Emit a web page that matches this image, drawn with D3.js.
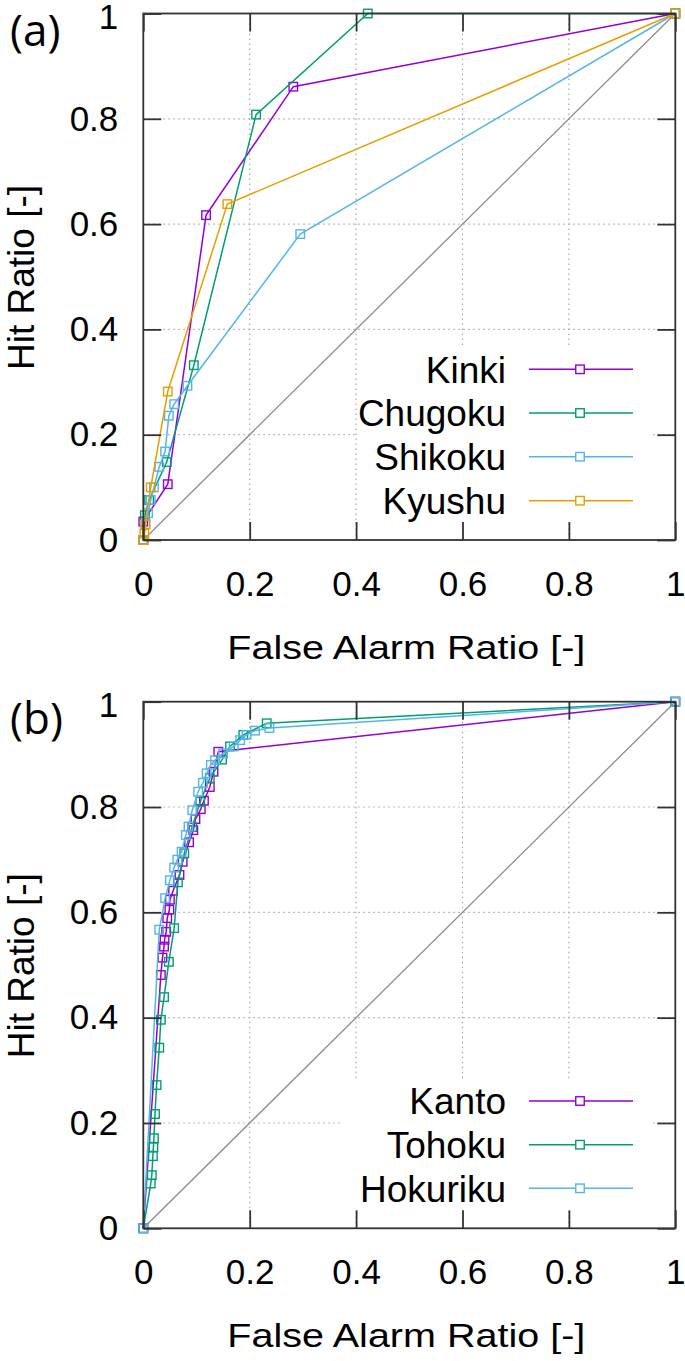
<!DOCTYPE html>
<html>
<head>
<meta charset="utf-8">
<script src="https://cdn.jsdelivr.net/npm/d3@7"></script>
<style>
  html, body { margin: 0; padding: 0; background: #fff; }
  svg { display: block; }
  text { font-family: "Liberation Sans", Arial, sans-serif; fill: #000; }
</style>
</head>
<body>
<svg id="chart" width="685" height="1361"></svg>
<script>
// ---------------- data ----------------
const tickValues = [0, 0.2, 0.4, 0.6, 0.8, 1];
const tickLabels = ["0", "0.2", "0.4", "0.6", "0.8", "1"];
const xTitle = "False Alarm Ratio [-]";
const yTitle = "Hit Ratio [-]";

// Panel (a)
const panelANames = ["Kinki", "Chugoku", "Shikoku", "Kyushu"];
const kinki = [[0,0],[0,0.035],[0.046,0.106],[0.118,0.617],[0.282,0.861],[1,1]];
const chugoku = [[0,0],[0.003,0.047],[0.011,0.076],[0.044,0.148],[0.095,0.332],[0.212,0.808],[0.422,1],[1,1]];
const shikoku = [[0,0],[0.004,0.03],[0.009,0.051],[0.014,0.076],[0.020,0.100],[0.030,0.139],[0.041,0.168],[0.048,0.236],[0.058,0.258],[0.083,0.293],[0.295,0.581],[1,1]];
const kyushu = [[0,0],[0.002,0.012],[0.004,0.03],[0.014,0.100],[0.046,0.282],[0.158,0.638],[1,1]];

// Panel (b)
const panelBNames = ["Kanto", "Tohoku", "Hokuriku"];
const kanto = [[0,0],[0.033,0.481],[0.036,0.514],[0.039,0.535],[0.040,0.548],[0.043,0.563],[0.045,0.589],[0.049,0.605],[0.050,0.624],[0.056,0.641],[0.068,0.671],[0.074,0.696],[0.086,0.733],[0.094,0.756],[0.098,0.777],[0.108,0.796],[0.114,0.812],[0.125,0.838],[0.132,0.867],[0.141,0.905],[1,1]];
const tohoku = [[0,0],[0.014,0.085],[0.016,0.101],[0.018,0.137],[0.019,0.154],[0.020,0.171],[0.022,0.217],[0.025,0.272],[0.030,0.343],[0.033,0.396],[0.039,0.439],[0.048,0.506],[0.058,0.570],[0.065,0.657],[0.077,0.712],[0.092,0.762],[0.107,0.810],[0.125,0.855],[0.148,0.890],[0.163,0.915],[0.188,0.937],[0.232,0.959],[1,1]];
const hokuriku = [[0,0],[0.030,0.567],[0.041,0.627],[0.050,0.661],[0.058,0.685],[0.064,0.700],[0.072,0.715],[0.080,0.747],[0.085,0.763],[0.092,0.794],[0.103,0.829],[0.112,0.846],[0.119,0.864],[0.127,0.880],[0.135,0.889],[0.150,0.902],[0.170,0.915],[0.182,0.927],[0.194,0.937],[0.210,0.945],[0.237,0.950],[1,1]];

const seriesColors = ["#9400d3", "#009e73", "#56b4e9", "#e69f00"];

// ---------------- layout ----------------
const svg = d3.select("#chart");
const plotLeft = 143.3, plotRight = 675.3;

function drawPanel(cfg) {
  const g = svg.append("g");
  const x = d3.scaleLinear().domain([0, 1]).range([plotLeft, plotRight]);
  const y = d3.scaleLinear().domain([0, 1]).range([cfg.bottom, cfg.top]);
  const fmt = d => tickLabels[tickValues.indexOf(d)];

  // grid
  const grid = g.append("g").attr("stroke", "#a8a8a8").attr("stroke-width", 1.2)
    .attr("stroke-dasharray", "1.5,3.5");
  tickValues.slice(1, -1).forEach(v => {
    grid.append("line").attr("x1", x(v)).attr("x2", x(v)).attr("y1", y(0)).attr("y2", y(1));
    grid.append("line").attr("x1", x(0)).attr("x2", x(1)).attr("y1", y(v)).attr("y2", y(v));
  });

  // legend background (opaque key)
  g.append("rect").attr("x", cfg.keyBox[0]).attr("y", cfg.keyBox[1])
    .attr("width", cfg.keyBox[2]).attr("height", cfg.keyBox[3]).attr("fill", "#fff");

  // diagonal
  g.append("line").attr("x1", x(0)).attr("y1", y(0)).attr("x2", x(1)).attr("y2", y(1))
    .attr("stroke", "#8c8c8c").attr("stroke-width", 1.3);

  const line = d3.line().x(d => x(d[0])).y(d => y(d[1]));
  const ms = 8.5;
  cfg.series.forEach((s, i) => {
    const col = seriesColors[i];
    g.append("path").datum(s).attr("d", line).attr("fill", "none")
      .attr("stroke", col).attr("stroke-width", 1.5);
    g.append("g").selectAll("rect").data(s).join("rect")
      .attr("x", d => x(d[0]) - ms / 2).attr("y", d => y(d[1]) - ms / 2)
      .attr("width", ms).attr("height", ms)
      .attr("fill", "none").attr("stroke", col).attr("stroke-width", 1.4);
  });

  // axes (ticks inward)
  const axStyle = sel => {
    sel.select(".domain").remove();
    sel.selectAll(".tick line").attr("stroke", "#333").attr("stroke-width", 1.8);
    sel.selectAll("text").style("font-size", "35px").style("font-family", "'Liberation Sans', Arial, sans-serif").attr("fill", "#000");
  };
  g.append("g").attr("transform", `translate(0,${cfg.bottom})`)
    .call(d3.axisBottom(x).tickValues(tickValues).tickFormat(fmt).tickSize(-18).tickPadding(31))
    .call(axStyle);
  const yAxisG = g.append("g").attr("transform", `translate(${plotLeft},0)`)
    .call(d3.axisLeft(y).tickValues(tickValues).tickFormat(fmt).tickSize(-18).tickPadding(25))
    .call(axStyle);
  // the top label sits slightly lower in the reference
  yAxisG.selectAll(".tick").filter(d => d === 1).select("text").attr("y", 4);
  g.append("g").attr("transform", `translate(0,${cfg.top})`)
    .call(d3.axisTop(x).tickValues(tickValues).tickFormat("").tickSize(-18))
    .call(axStyle);
  g.append("g").attr("transform", `translate(${plotRight},0)`)
    .call(d3.axisRight(y).tickValues(tickValues).tickFormat("").tickSize(-18))
    .call(axStyle);

  // frame
  g.append("rect").attr("x", plotLeft).attr("y", cfg.top)
    .attr("width", plotRight - plotLeft).attr("height", cfg.bottom - cfg.top)
    .attr("fill", "none").attr("stroke", "#333").attr("stroke-width", 1.8);

  // legend
  cfg.names.forEach((name, i) => {
    const ly = cfg.keyY[i];
    g.append("text").attr("x", 506).attr("y", ly).attr("dy", "0.36em")
      .attr("text-anchor", "end").style("font-size", "37px").text(name);
    g.append("line").attr("x1", 529).attr("x2", 633).attr("y1", ly).attr("y2", ly)
      .attr("stroke", seriesColors[i]).attr("stroke-width", 1.5);
    g.append("rect").attr("x", 580 - ms / 2).attr("y", ly - ms / 2).attr("width", ms).attr("height", ms)
      .attr("fill", "#fff").attr("stroke", seriesColors[i]).attr("stroke-width", 1.4);
  });

  // titles
  g.append("text").attr("x", (plotLeft + plotRight) / 2 - 3).attr("y", cfg.bottom + 119)
    .attr("text-anchor", "middle").style("font-size", "34px")
    .attr("textLength", 358).attr("lengthAdjust", "spacingAndGlyphs").text(xTitle);
  g.append("text").attr("transform", `translate(34,${cfg.top + 264}) rotate(-90)`)
    .attr("text-anchor", "middle").style("font-size", "37px").text(yTitle);
  g.append("text").attr("x", 10).attr("y", cfg.top + 32).style("font-size", "44px")
    .style("font-family", "'Open Sans', 'Liberation Sans', sans-serif").text(cfg.label);
}

drawPanel({
  top: 13.5, bottom: 540, label: "(a)",
  series: [kinki, chugoku, shikoku, kyushu], names: panelANames,
  keyBox: [358, 345, 294, 177], keyY: [369.3, 413, 456.7, 500.7]
});
drawPanel({
  top: 701.7, bottom: 1228.3, label: "(b)",
  series: [kanto, tohoku, hokuriku], names: panelBNames,
  keyBox: [340, 1080, 312, 130], keyY: [1101, 1144.7, 1188.3]
});
</script>
</body>
</html>
